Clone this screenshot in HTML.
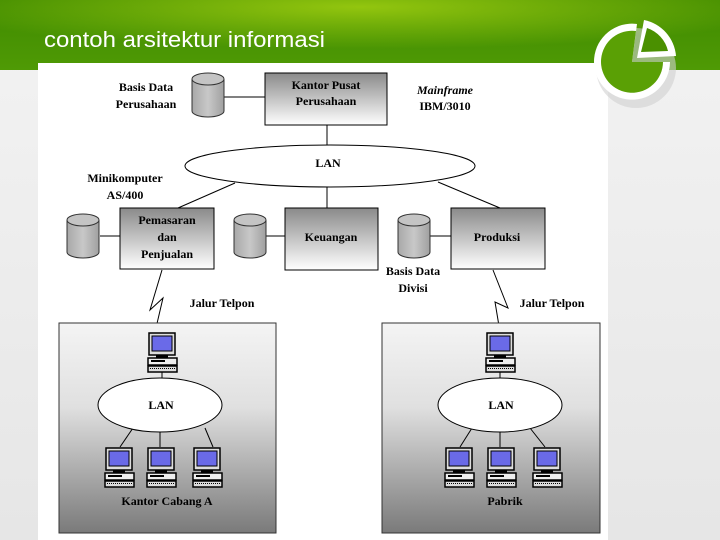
<!DOCTYPE html>
<html><head><meta charset="utf-8"><style>
html,body{margin:0;padding:0;width:720px;height:540px;overflow:hidden;background:#fff}
</style></head><body>
<svg width="720" height="540" viewBox="0 0 720 540" xmlns="http://www.w3.org/2000/svg" font-family="Liberation Serif, serif" font-weight="bold">
<defs>
<linearGradient id="hdr" x1="0" y1="0" x2="0" y2="1"><stop offset="0" stop-color="#3f8a00"/><stop offset="1" stop-color="#4f9a05"/></linearGradient>
<radialGradient id="hdr2" cx="0.5" cy="0.1" r="0.6"><stop offset="0" stop-color="#9ccc10" stop-opacity="0.9"/><stop offset="1" stop-color="#9ccc10" stop-opacity="0"/></radialGradient>
<linearGradient id="bg" x1="0" y1="0" x2="0" y2="1"><stop offset="0" stop-color="#f3f3f3"/><stop offset="1" stop-color="#e6e6e6"/></linearGradient>
<linearGradient id="box" x1="0" y1="0" x2="0" y2="1"><stop offset="0" stop-color="#8a8a8a"/><stop offset="1" stop-color="#ffffff"/></linearGradient>
<linearGradient id="branch" x1="0" y1="0" x2="0" y2="1"><stop offset="0" stop-color="#f4f4f4"/><stop offset="0.4" stop-color="#e0e0e0"/><stop offset="1" stop-color="#7a7a7a"/></linearGradient>
<linearGradient id="cyl" x1="0" y1="0" x2="1" y2="0"><stop offset="0" stop-color="#a8a8a8"/><stop offset="0.5" stop-color="#c8c8c8"/><stop offset="1" stop-color="#a0a0a0"/></linearGradient>
<g id="pc">
<rect x="1" y="0" width="26" height="22" fill="#ddd" stroke="#000" stroke-width="1.5"/>
<rect x="4" y="3" width="20" height="15" fill="#6a6ae8" stroke="#000"/>
<rect x="8" y="22" width="12" height="3" fill="#000"/>
<rect x="0" y="25" width="29" height="7" fill="#eee" stroke="#000" stroke-width="1.5"/>
<rect x="3" y="27" width="14" height="2" fill="#000"/>
<rect x="0" y="33" width="29" height="6" fill="#ddd" stroke="#000" stroke-width="1.5"/>
<line x1="2" y1="35.5" x2="27" y2="35.5" stroke="#000" stroke-dasharray="1 1"/>
</g>
<g id="cy">
<path d="M0,6 v32 a16,6 0 0 0 32,0 v-32" fill="url(#cyl)" stroke="#333"/>
<ellipse cx="16" cy="6" rx="16" ry="6" fill="#c4c4c4" stroke="#333"/>
</g>
</defs>
<rect width="720" height="540" fill="url(#bg)"/>
<rect width="720" height="70" fill="url(#hdr)"/>
<rect width="720" height="70" fill="url(#hdr2)"/>
<text x="44" y="47" font-family="Liberation Sans, sans-serif" font-weight="normal" font-size="22" fill="#fff" textLength="281" lengthAdjust="spacingAndGlyphs">contoh arsitektur informasi</text>
<rect x="38" y="63" width="570" height="477" fill="#fff"/>
<!-- logo -->
<circle cx="636" cy="68" r="40" fill="#d0d0d0" opacity="0.6"/>
<path d="M632,62 L637,24 A38,38 0 1 0 670,62 Z" fill="#fff"/>
<path d="M632,62 L636,31 A31,31 0 1 0 663,62 Z" fill="#5aa005"/>
<path d="M637,58 L644,20 A40,40 0 0 1 676,56 Z" fill="#fff"/>
<path d="M641,52 L647,28 A32,32 0 0 1 668,51 Z" fill="#4a9000"/>
<g stroke="#000" stroke-width="1" fill="none">
<line x1="222" y1="97" x2="265" y2="97"/>
<line x1="327" y1="125" x2="327" y2="145"/>
<line x1="235" y1="183" x2="178" y2="208"/>
<line x1="327" y1="187" x2="327" y2="208"/>
<line x1="438" y1="182" x2="500" y2="208"/>
<line x1="100" y1="236" x2="120" y2="236"/>
<line x1="266" y1="236" x2="285" y2="236"/>
<line x1="430" y1="236" x2="451" y2="236"/>
<polyline points="162,270 150,310 163,298 155,332"/>
<polyline points="493,270 508,308 495,302 500,332"/>
</g>
<rect x="265" y="73" width="122" height="52" fill="url(#box)" stroke="#000"/>
<use href="#cy" x="192" y="73"/>
<ellipse cx="330" cy="166" rx="145" ry="21" fill="#fff" stroke="#000"/>
<rect x="120" y="208" width="94" height="61" fill="url(#box)" stroke="#000"/>
<rect x="285" y="208" width="93" height="62" fill="url(#box)" stroke="#000"/>
<rect x="451" y="208" width="94" height="61" fill="url(#box)" stroke="#000"/>
<use href="#cy" x="67" y="214"/>
<use href="#cy" x="234" y="214"/>
<use href="#cy" x="398" y="214"/>
<rect x="59" y="323" width="217" height="210" fill="url(#branch)" stroke="#333"/>
<rect x="382" y="323" width="218" height="210" fill="url(#branch)" stroke="#333"/>
<g stroke="#000" fill="none">
<line x1="162" y1="370" x2="162" y2="380"/>
<line x1="133" y1="428" x2="120" y2="447"/><line x1="160" y1="432" x2="160" y2="447"/><line x1="205" y1="428" x2="213" y2="447"/>
<line x1="500" y1="370" x2="500" y2="380"/>
<line x1="472" y1="428" x2="460" y2="447"/><line x1="500" y1="432" x2="500" y2="447"/><line x1="530" y1="428" x2="545" y2="447"/>
</g>
<ellipse cx="160" cy="405" rx="62" ry="27" fill="#fff" stroke="#000"/>
<ellipse cx="500" cy="405" rx="62" ry="27" fill="#fff" stroke="#000"/>
<use href="#pc" x="148" y="333"/>
<use href="#pc" x="105" y="448"/><use href="#pc" x="147" y="448"/><use href="#pc" x="193" y="448"/>
<use href="#pc" x="486" y="333"/>
<use href="#pc" x="445" y="448"/><use href="#pc" x="487" y="448"/><use href="#pc" x="533" y="448"/>
<g font-size="12" fill="#000" text-anchor="middle">
<text x="146" y="91">Basis Data</text><text x="146" y="108">Perusahaan</text>
<text x="326" y="89">Kantor Pusat</text><text x="326" y="105">Perusahaan</text>
<text x="445" y="94" font-style="italic">Mainframe</text><text x="445" y="110">IBM/3010</text>
<text x="328" y="167">LAN</text>
<text x="125" y="182">Minikomputer</text><text x="125" y="199">AS/400</text>
<text x="167" y="224">Pemasaran</text><text x="167" y="241">dan</text><text x="167" y="258">Penjualan</text>
<text x="331" y="241">Keuangan</text>
<text x="497" y="241">Produksi</text>
<text x="413" y="275">Basis Data</text><text x="413" y="292">Divisi</text>
<text x="222" y="307">Jalur Telpon</text>
<text x="552" y="307">Jalur Telpon</text>
<text x="161" y="409">LAN</text>
<text x="501" y="409">LAN</text>
<text x="167" y="505">Kantor Cabang A</text>
<text x="505" y="505">Pabrik</text>
</g>
</svg>
</body></html>
